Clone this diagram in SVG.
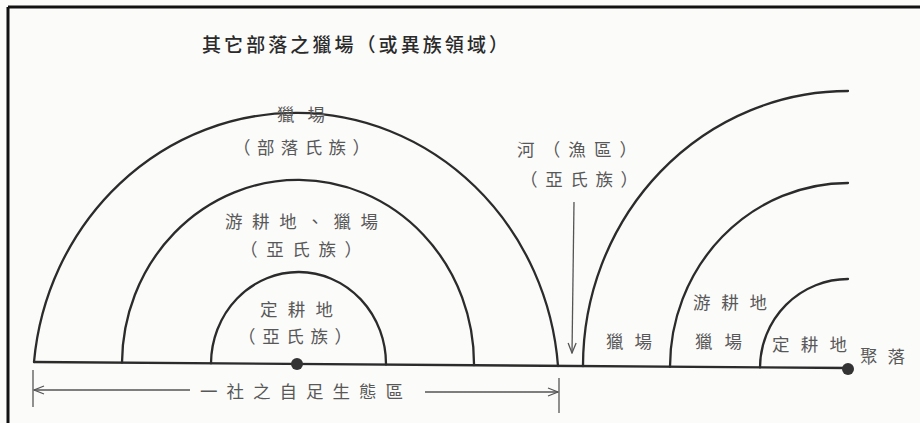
<svg xmlns="http://www.w3.org/2000/svg" width="920" height="423" viewBox="0 0 920 423">
<style>
.arc{fill:none;stroke:#2b2b2b;stroke-width:2.3;stroke-linecap:round}
.dim{fill:none;stroke:#555;stroke-width:1.3}
.lbl{font-family:"Noto Sans CJK TC","Noto Sans CJK SC",sans-serif;font-size:17.5px;fill:#585858}
.ttl{font-family:"Noto Sans CJK TC","Noto Sans CJK SC",sans-serif;font-size:19px;fill:#2a2a2a;font-weight:500}
</style>
<defs>
<marker id="open" viewBox="0 0 12 10" refX="11" refY="5" markerWidth="12" markerHeight="10" markerUnits="userSpaceOnUse" orient="auto-start-reverse">
<path d="M1,1 L11,5 L1,9" fill="none" stroke="#555" stroke-width="1.3"/>
</marker>
</defs>
<rect width="920" height="423" fill="#fbfbfa"/>
<g id="frame">
<line x1="8" y1="7" x2="920" y2="7" stroke="#111" stroke-width="3"/>
<line x1="8" y1="7" x2="8" y2="423" stroke="#111" stroke-width="3"/>
</g>
<g id="title">
<text class="ttl" x="202" y="52" textLength="306" lengthAdjust="spacing">其它部落之獵場（或異族領域）</text>
</g>
<g id="baseline">
<line class="arc" x1="34" y1="362" x2="848" y2="368"/>
</g>
<g id="left-zones">
<path id="outer-left" class="arc" d="M34,362 A263,275 0 0 1 558,366"/>
<path id="middle-left" class="arc" d="M122,362.6 A176,184 0 0 1 474,365.2"/>
<path id="inner-left" class="arc" d="M211,363.3 A87.5,92 0 0 1 386,364.6"/>
<circle cx="297" cy="364" r="6" fill="#333"/>
</g>
<g id="right-zones">
<path id="outer-right" class="arc" d="M583,366.2 A265,275 0 0 1 848,91"/>
<path id="middle-right" class="arc" d="M670,366.8 A178,184 0 0 1 848,183"/>
<path id="inner-right" class="arc" d="M760,367.4 A88,89 0 0 1 848,279"/>
<circle cx="848" cy="369" r="6" fill="#333"/>
</g>
<g id="labels">
<text class="lbl" x="277" y="121" textLength="48" lengthAdjust="spacing">獵場</text>
<text class="lbl" x="233" y="154" textLength="137" lengthAdjust="spacing">（部落氏族）</text>
<text class="lbl" x="225" y="228" textLength="153" lengthAdjust="spacing">游耕地、獵場</text>
<text class="lbl" x="240" y="256" textLength="122" lengthAdjust="spacing">（亞氏族）</text>
<text class="lbl" x="260" y="316" textLength="73" lengthAdjust="spacing">定耕地</text>
<text class="lbl" x="238" y="343" textLength="114" lengthAdjust="spacing">（亞氏族）</text>
<text class="lbl" x="517" y="156" textLength="120" lengthAdjust="spacing">河（漁區）</text>
<text class="lbl" x="520" y="186" textLength="118" lengthAdjust="spacing">（亞氏族）</text>
<text class="lbl" x="606" y="348" textLength="46" lengthAdjust="spacing">獵場</text>
<text class="lbl" x="693" y="309" textLength="74" lengthAdjust="spacing">游耕地</text>
<text class="lbl" x="695" y="348" textLength="47" lengthAdjust="spacing">獵場</text>
<text class="lbl" x="772" y="351" textLength="75" lengthAdjust="spacing">定耕地</text>
<text class="lbl" x="860" y="363" textLength="45" lengthAdjust="spacing">聚落</text>
<text class="lbl" x="200" y="398" textLength="203" lengthAdjust="spacing">一社之自足生態區</text>
</g>
<g id="connectors">
<line class="dim" x1="574" y1="202" x2="572" y2="353" marker-end="url(#open)"/>
<line class="dim" x1="33" y1="370" x2="33" y2="407"/>
<line class="dim" x1="190" y1="390" x2="34" y2="390" marker-end="url(#open)"/>
<line class="dim" x1="425" y1="392" x2="558" y2="392" marker-end="url(#open)"/>
<line class="dim" x1="559" y1="378" x2="559" y2="413"/>
</g>
</svg>
